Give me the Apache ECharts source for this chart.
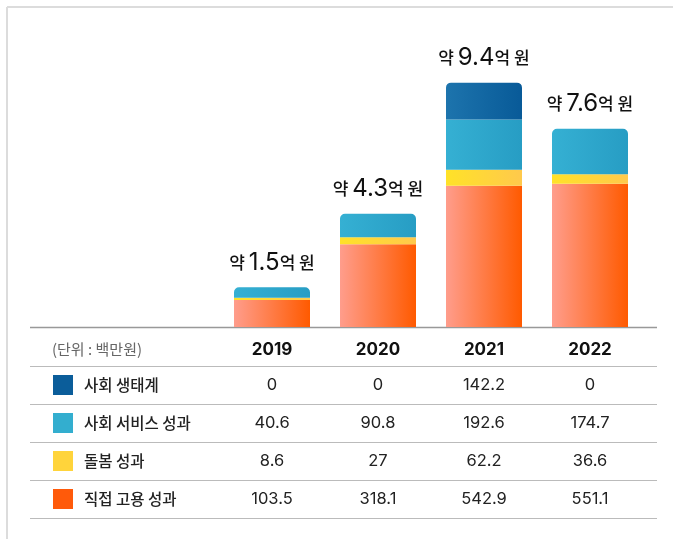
<!DOCTYPE html>
<html>
<head>
<meta charset="utf-8">
<script src="https://cdn.jsdelivr.net/npm/echarts@6.0.0/dist/echarts.min.js"></script>
<style>
  html, body { margin: 0; padding: 0; background: #fff; }
  #chart-container { width: 673px; height: 539px; }
</style>
</head>
<body>
<div id="chart-container"></div>
<script>
const years = ['2019', '2020', '2021', '2022'];
const seriesNames = ['직접 고용 성과', '돌봄 성과', '사회 서비스 성과', '사회 생태계'];
const directJobs = [103.5, 318.1, 542.9, 551.1];
const care = [8.6, 27, 62.2, 36.6];
const socialService = [40.6, 90.8, 192.6, 174.7];
const ecosystem = [0, 0, 142.2, 0];
const totalLabels = ['1.5', '4.3', '9.4', '7.6'];
const unitLabel = '(단위 : 백만원)';

const kr = '"Noto Sans CJK KR", "Noto Sans", sans-serif';
const num = 'Inter, Lato, sans-serif';

const grad = (a, b) => new echarts.graphic.LinearGradient(0, 0, 1, 0, [
  { offset: 0, color: a }, { offset: 1, color: b }
]);
const fills = [
  grad('#ff9d8c', '#ff5a00'),
  grad('#ffe228', '#ffc94c'),
  grad('#35b0d3', '#279dc4'),
  grad('#1d74ad', '#085a98')
];
const swatch = ['#ff5a0a', '#ffd43b', '#33aecf', '#0b5d9a'];

const stacks = [directJobs, care, socialService, ecosystem];

// which series is the visible top segment in each column
const topIdx = years.map((_, i) => {
  let t = 0;
  stacks.forEach((arr, s) => { if (arr[i] > 0) t = s; });
  return t;
});

const chart = echarts.init(document.getElementById('chart-container'));

const series = stacks.map((arr, s) => ({
  name: seriesNames[s],
  type: 'bar',
  stack: 'total',
  barWidth: 76,
  data: arr.map((v, i) => ({
    value: v,
    itemStyle: { color: fills[s], borderRadius: topIdx[i] === s ? [5, 5, 0, 0] : 0 }
  })),
  label: s === 3 ? {
    show: true,
    position: 'top',
    distance: 13,
    formatter: p => '{a|약 }{b|' + totalLabels[p.dataIndex] + '}{a|억 원}',
    rich: {
      a: { fontFamily: kr, fontSize: 17, fontWeight: 500, color: '#111' },
      b: { fontFamily: num, fontSize: 24, color: '#111' }
    }
  } : { show: false },
  silent: true
}));

const option = {
  animation: false,
  grid: { left: 219, right: 30, top: 67, bottom: 212 },
  xAxis: {
    type: 'category',
    data: years,
    axisLine: { show: false },
    axisTick: { show: false },
    axisLabel: {
      margin: 14,
      fontFamily: num, fontSize: 17, fontWeight: 'bold', color: '#111'
    }
  },
  yAxis: { type: 'value', min: 0, max: 1000, show: false, splitLine: { show: false } },
  series: series
};
chart.setOption(option);

function drawTable() {
  const g = [];
  // outer frame
  g.push({ type: 'line', shape: { x1: 7, y1: 7, x2: 673, y2: 7 }, style: { stroke: '#dcdcdc', lineWidth: 2 } });
  g.push({ type: 'line', shape: { x1: 7, y1: 7, x2: 7, y2: 539 }, style: { stroke: '#dcdcdc', lineWidth: 2 } });
  // baseline
  g.push({ type: 'line', shape: { x1: 30, y1: 327.5, x2: 657, y2: 327.5 }, style: { stroke: '#999', lineWidth: 1.5 } });
  g.push({ type: 'text', x: 52, y: 349, style: { text: unitLabel, fontFamily: kr, fontSize: 15, fill: '#666', verticalAlign: 'middle' } });
  const lineYs = [366, 404, 442, 480, 518];
  lineYs.forEach(y => g.push({ type: 'line', shape: { x1: 30, y1: y + 0.5, x2: 657, y2: y + 0.5 }, style: { stroke: '#bbb', lineWidth: 1.2 } }));
  const rowOrder = [3, 2, 1, 0];
  rowOrder.forEach((s, r) => {
    const cy = 385 + r * 38;
    g.push({ type: 'rect', shape: { x: 53, y: cy - 10, width: 20, height: 20 }, style: { fill: swatch[s] } });
    g.push({ type: 'text', x: 84, y: cy, style: { text: seriesNames[s], fontFamily: kr, fontSize: 15.5, fontWeight: 500, fill: '#222', verticalAlign: 'middle' } });
    years.forEach((yr, i) => {
      const cx = chart.convertToPixel({ xAxisIndex: 0 }, yr);
      g.push({ type: 'text', x: cx, y: cy, style: { text: String(stacks[s][i]), fontFamily: num, fontSize: 16.5, fill: '#222', align: 'center', verticalAlign: 'middle' } });
    });
  });
  chart.setOption({ graphic: g });
}
drawTable();
</script>
</body>
</html>
